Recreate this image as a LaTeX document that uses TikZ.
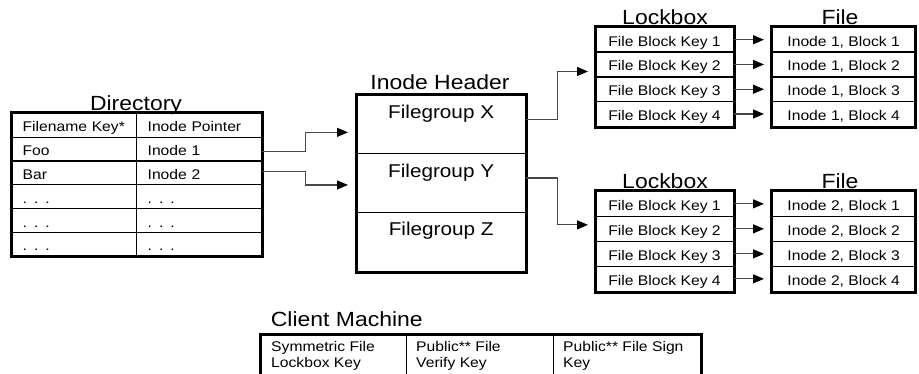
\documentclass[tikz,border=0pt]{standalone}
\usepackage{fontspec}
\setmainfont{Liberation Sans}[FakeStretch=1.12]
\usetikzlibrary{arrows.meta}
\newcommand\tblfont{\fontsize{14}{16.7}\selectfont}
\newcommand\ttlfont{\fontsize{20.5}{24}\selectfont}
\newcommand\fgfont{\fontsize{18.5}{22}\selectfont}
\begin{document}
\begin{tikzpicture}[x=1pt,y=-1pt,
  basecell/.style={draw=black, line width=1.3pt, inner ysep=0pt, anchor=north west,
    font=\tblfont, text height=13pt, text depth=0pt},
  cellL/.style={basecell, inner xsep=11pt, text width=#1, align=left},
  cellC/.style={basecell, inner xsep=0pt, minimum width=#1, align=center},
  emptycell/.style={draw=black, line width=1.3pt, inner sep=0pt, anchor=north west},
  frame/.style={draw=black, line width=3pt},
  title/.style={anchor=base, font=\ttlfont, inner sep=0pt},
  fg/.style={anchor=base, font=\fgfont, inner sep=0pt},
  ctext/.style={anchor=base west, font=\tblfont, inner sep=0pt},
  conn/.style={draw=black!72, line width=1.2pt,
    -{Triangle[length=11pt,width=9pt,color=black]}},
]
\useasboundingbox (0,0) rectangle (919,373);
\clip (0,0) rectangle (919,373);

% ---------- Directory ----------
\node[title] (dirT) at (136,110.5) {Directory};
\node[cellL=103pt, minimum height=23.83pt] (d11) at (11,112.7)   {Filename Key*};
\node[cellL=103pt, minimum height=23.83pt] (d12) at (136,112.7)  {Inode Pointer};
\node[cellL=103pt, minimum height=23.83pt] (d21) at (11,136.53)  {Foo};
\node[cellL=103pt, minimum height=23.83pt] (d22) at (136,136.53) {Inode 1};
\node[cellL=103pt, minimum height=23.83pt] (d31) at (11,160.36)  {Bar};
\node[cellL=103pt, minimum height=23.83pt] (d32) at (136,160.36) {Inode 2};
\node[cellL=103pt, minimum height=23.83pt] (d41) at (11,184.19)  {. . .};
\node[cellL=103pt, minimum height=23.83pt] (d42) at (136,184.19) {. . .};
\node[cellL=103pt, minimum height=23.83pt] (d51) at (11,208.02)  {. . .};
\node[cellL=103pt, minimum height=23.83pt] (d52) at (136,208.02) {. . .};
\node[cellL=103pt, minimum height=23.83pt] (d61) at (11,231.85)  {. . .};
\node[cellL=103pt, minimum height=23.83pt] (d62) at (136,231.85) {. . .};
\draw[frame] (d11.north west) rectangle (d62.south east);

% ---------- Inode Header ----------
\node[title] (inT) at (440,89.3) {Inode Header};
\node[emptycell, minimum width=169pt, minimum height=58.8pt] (h1) at (356,94.3) {};
\node[emptycell, minimum width=169pt, minimum height=58.8pt] (h2) at (356,153.1) {};
\node[emptycell, minimum width=169pt, minimum height=58.8pt] (h3) at (356,211.9) {};
\node[fg] (h1t) at ([yshift=-24pt]h1.north) {Filegroup X};
\node[fg] (h2t) at ([yshift=-24pt]h2.north) {Filegroup Y};
\node[fg] (h3t) at ([yshift=-24pt]h3.north) {Filegroup Z};
\draw[frame] (h1.north west) rectangle (h3.south east);

% ---------- Lockbox 1 / File 1 ----------
\node[title] (lk1T) at (665,24) {Lockbox};
\node[title] (fl1T) at (840,24) {File};
\node[cellC=137.7pt, minimum height=24.75pt] (l11) at (595,26.7)   {File Block Key 1};
\node[cellC=137.7pt, minimum height=24.75pt] (l12) at (595,51.45)  {File Block Key 2};
\node[cellC=137.7pt, minimum height=24.75pt] (l13) at (595,76.2)   {File Block Key 3};
\node[cellC=137.7pt, minimum height=24.75pt] (l14) at (595,100.95) {File Block Key 4};
\node[cellC=142.6pt, minimum height=24.75pt] (f11) at (771.7,26.7)   {Inode 1, Block 1};
\node[cellC=142.6pt, minimum height=24.75pt] (f12) at (771.7,51.45)  {Inode 1, Block 2};
\node[cellC=142.6pt, minimum height=24.75pt] (f13) at (771.7,76.2)   {Inode 1, Block 3};
\node[cellC=142.6pt, minimum height=24.75pt] (f14) at (771.7,100.95) {Inode 1, Block 4};
\draw[frame] (l11.north west) rectangle (l14.south east);
\draw[frame] (f11.north west) rectangle (f14.south east);

% ---------- Lockbox 2 / File 2 ----------
\node[title] (lk2T) at (665,188.3) {Lockbox};
\node[title] (fl2T) at (840,188.3) {File};
\node[cellC=137.7pt, minimum height=25pt] (l21) at (595,190.7) {File Block Key 1};
\node[cellC=137.7pt, minimum height=25pt] (l22) at (595,215.7) {File Block Key 2};
\node[cellC=137.7pt, minimum height=25pt] (l23) at (595,240.7) {File Block Key 3};
\node[cellC=137.7pt, minimum height=25pt] (l24) at (595,265.7) {File Block Key 4};
\node[cellC=142.6pt, minimum height=25pt] (f21) at (771.7,190.7) {Inode 2, Block 1};
\node[cellC=142.6pt, minimum height=25pt] (f22) at (771.7,215.7) {Inode 2, Block 2};
\node[cellC=142.6pt, minimum height=25pt] (f23) at (771.7,240.7) {Inode 2, Block 3};
\node[cellC=142.6pt, minimum height=25pt] (f24) at (771.7,265.7) {Inode 2, Block 4};
\draw[frame] (l21.north west) rectangle (l24.south east);
\draw[frame] (f21.north west) rectangle (f24.south east);

% ---------- Client Machine ----------
\node[title, anchor=base west] (cmT) at (270.7,326) {Client Machine};
\node[emptycell, minimum width=146pt, minimum height=42pt] (c1) at (260,334) {};
\node[emptycell, minimum width=147pt, minimum height=42pt] (c2) at (406,334) {};
\node[emptycell, minimum width=147pt, minimum height=42pt] (c3) at (553,334) {};
\draw[frame] (c1.north west) rectangle (c3.south east);
\node[ctext] (c1a) at ([xshift=11pt,yshift=-17pt]c1.north west) {Symmetric File};
\node[ctext] (c1b) at ([xshift=11pt,yshift=-33.7pt]c1.north west) {Lockbox Key};
\node[ctext] (c2a) at ([xshift=10pt,yshift=-17pt]c2.north west) {Public** File};
\node[ctext] (c2b) at ([xshift=10pt,yshift=-33.7pt]c2.north west) {Verify Key};
\node[ctext] (c3a) at ([xshift=10pt,yshift=-17pt]c3.north west) {Public** File Sign};
\node[ctext] (c3b) at ([xshift=10pt,yshift=-33.7pt]c3.north west) {Key};

% ---------- Connectors ----------
\draw[conn, shorten >=8pt] ([yshift=-2.6pt]d22.east) -- ++(43.3,0) |- ([yshift=-8pt]h1.west);
\draw[conn, shorten >=8pt] ([yshift=1.3pt]d32.east) -- ++(43.3,0) |- ([yshift=-1.8pt]h2.west);
\draw[conn, shorten >=7pt] ([yshift=4.7pt]h1.east) -- ++(31,0) |- ([yshift=-7pt]l12.west);
\draw[conn, shorten >=7pt] ([yshift=5.2pt]h2.east) -- ++(31,0) |- ([yshift=4pt]l22.west);

\draw[conn, shorten >=7.7pt] (l11.east) -- (f11.west);
\draw[conn, shorten >=7.7pt] (l12.east) -- (f12.west);
\draw[conn, shorten >=7.7pt] (l13.east) -- (f13.west);
\draw[conn, shorten >=7.7pt] (l14.east) -- (f14.west);
\draw[conn, shorten >=7.7pt] (l21.east) -- (f21.west);
\draw[conn, shorten >=7.7pt] (l22.east) -- (f22.west);
\draw[conn, shorten >=7.7pt] (l23.east) -- (f23.west);
\draw[conn, shorten >=7.7pt] (l24.east) -- (f24.west);
\end{tikzpicture}
\end{document}
